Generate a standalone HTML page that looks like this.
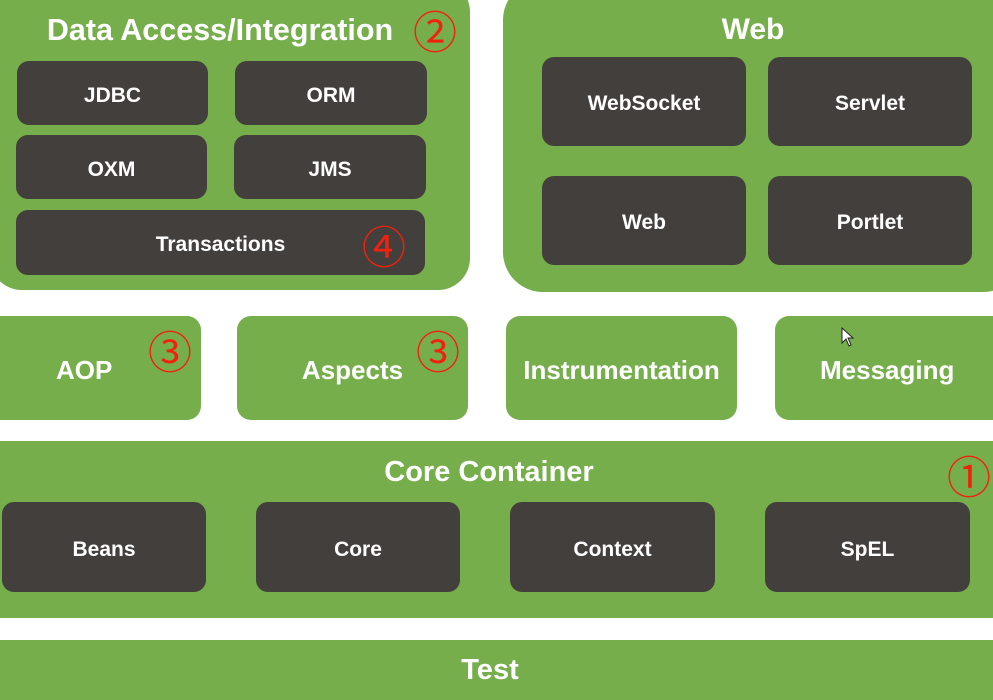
<!DOCTYPE html>
<html><head><meta charset="utf-8"><style>
html,body{margin:0;padding:0;width:993px;height:686px;overflow:hidden;background:#fff;font-family:"Liberation Sans",Arial,sans-serif;}
.b{position:absolute;box-sizing:border-box;display:flex;align-items:center;justify-content:center;color:#fff;font-weight:bold;}
.g{background:#77ae4c;}
.d{background:#433f3c;border-radius:12px;font-size:21px;padding-top:5px;}
.t{position:absolute;color:#fff;font-weight:bold;text-align:center;}
.c{position:absolute;color:#f0220f;font-size:44px;line-height:44px;font-family:"Noto Sans CJK SC","DejaVu Sans",sans-serif;font-weight:normal;}
</style></head><body>
<div class="b g" style="left:-10px;top:-20px;width:480px;height:310px;border-radius:32px;"></div>
<div class="t" style="left:0;width:440px;top:13px;font-size:30.5px;">Data Access/Integration</div>
<div class="b d" style="left:17px;top:61px;width:191px;height:64px;">JDBC</div>
<div class="b d" style="left:235px;top:61px;width:192px;height:64px;">ORM</div>
<div class="b d" style="left:16px;top:135px;width:191px;height:64px;">OXM</div>
<div class="b d" style="left:234px;top:135px;width:192px;height:64px;">JMS</div>
<div class="b d" style="left:16px;top:210px;width:409px;height:65px;">Transactions</div>

<div class="b g" style="left:503px;top:-20px;width:520px;height:312px;border-radius:40px;"></div>
<div class="t" style="left:503px;width:500px;top:13px;font-size:30px;">Web</div>
<div class="b d" style="left:542px;top:57px;width:204px;height:89px;">WebSocket</div>
<div class="b d" style="left:768px;top:57px;width:204px;height:89px;">Servlet</div>
<div class="b d" style="left:542px;top:176px;width:204px;height:89px;">Web</div>
<div class="b d" style="left:768px;top:176px;width:204px;height:89px;">Portlet</div>

<div class="b g" style="left:-20px;top:316px;width:221px;height:104px;border-radius:14px;font-size:26px;padding-top:4px;justify-content:flex-start;"><span style="margin-left:76px">AOP</span></div>
<div class="b g" style="left:237px;top:316px;width:231px;height:104px;border-radius:14px;font-size:26px;padding-top:4px;">Aspects</div>
<div class="b g" style="left:506px;top:316px;width:231px;height:104px;border-radius:14px;font-size:26px;padding-top:4px;">Instrumentation</div>
<div class="b g" style="left:775px;top:316px;width:240px;height:104px;border-radius:14px;font-size:26px;padding-top:4px;justify-content:flex-start;"><span style="margin-left:45px">Messaging</span></div>

<div class="b g" style="left:-20px;top:441px;width:1040px;height:177px;border-radius:16px;"></div>
<div class="t" style="left:0;width:978px;top:456px;font-size:29px;">Core Container</div>
<div class="b d" style="left:2px;top:502px;width:204px;height:90px;">Beans</div>
<div class="b d" style="left:256px;top:502px;width:204px;height:90px;">Core</div>
<div class="b d" style="left:510px;top:502px;width:205px;height:90px;">Context</div>
<div class="b d" style="left:765px;top:502px;width:205px;height:90px;">SpEL</div>

<div class="b g" style="left:-10px;top:640px;width:1020px;height:60px;font-size:29px;align-items:flex-start;padding-top:14px;"><span style="margin-left:-20px">Test</span></div>

<div class="c" style="left:413px;top:7px;">②</div>
<div class="c" style="left:362px;top:222px;">④</div>
<div class="c" style="left:148px;top:327px;">③</div>
<div class="c" style="left:416px;top:327px;">③</div>
<div class="c" style="left:947px;top:452px;">①</div>
<svg style="position:absolute;left:841px;top:327px" width="14" height="20"><path d="M1 1 L1 16 L5 12 L8 19 L10 18 L7 11 L12 11 Z" fill="#fff" stroke="#222" stroke-width="1"/></svg>
</body></html>
